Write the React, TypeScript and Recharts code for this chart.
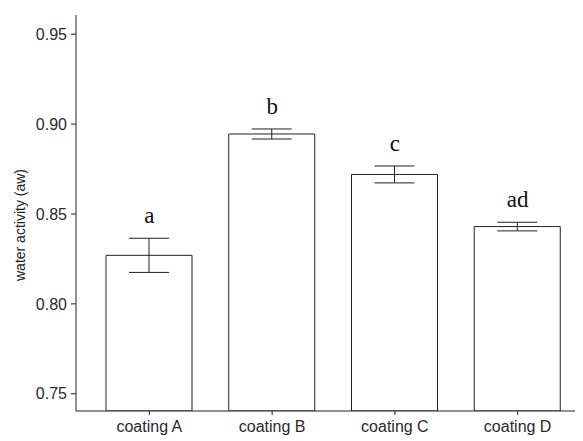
import {
  ComposedChart,
  Bar,
  Line,
  XAxis,
  YAxis,
  ErrorBar,
  LabelList,
} from 'recharts';

const categories = ['coating A', 'coating B', 'coating C', 'coating D'];
const means = [0.827, 0.8945, 0.872, 0.843];
const sds = [0.0095, 0.0028, 0.0047, 0.0024];
const letters = ['a', 'b', 'c', 'ad'];
const yTicks = [0.75, 0.8, 0.85, 0.9, 0.95];

const data = categories.map((name, i) => ({
  name,
  mean: means[i],
  sd: sds[i],
  top: means[i] + sds[i],
  letter: letters[i],
}));

const axisColor = '#222';

const YLabel = () => (
  <text
    x={13}
    y={217}
    transform="rotate(-90 13 217)"
    textAnchor="middle"
    dominantBaseline="middle"
    fontFamily="'Liberation Sans', Arial, sans-serif"
    fontSize={14}
    fill="#222"
  >
    water activity (aw)
  </text>
);

const App = () => {
  return (
    <div style={{ width: 575, height: 433, overflow: 'hidden' }}>
      <ComposedChart
        width={575}
        height={433}
        data={data}
        margin={{ top: 7, right: 0, bottom: 0, left: 0 }}
      >
        <XAxis
          dataKey="name"
          height={30}
          padding={{ left: 12, right: 4 }}
          stroke={axisColor}
          tickSize={4}
          tickMargin={6}
          tick={{ fill: '#2a2a2a', fontSize: 16, fontFamily: "'Liberation Sans', Arial, sans-serif" }}
        />
        <YAxis
          width={68}
          domain={[0.7404, 0.9607]}
          allowDataOverflow
          ticks={yTicks}
          tickFormatter={(v: number) => v.toFixed(2)}
          stroke={axisColor}
          tickSize={5}
          tickMargin={4}
          tick={{ fill: '#2a2a2a', fontSize: 16, fontFamily: "'Liberation Sans', Arial, sans-serif" }}
          label={<YLabel />}
        />
        <Bar
          dataKey="mean"
          barSize={86}
          fill="#fff"
          stroke="#222"
          strokeWidth={1}
          isAnimationActive={false}
        >
          <ErrorBar dataKey="sd" width={20} stroke="#222" strokeWidth={1} />
        </Bar>
        <Line
          dataKey="top"
          stroke="none"
          dot={false}
          activeDot={false}
          isAnimationActive={false}
        >
          <LabelList
            dataKey="letter"
            position="top"
            offset={15}
            fill="#111"
            fontSize={23}
            fontFamily="'Liberation Serif', 'Times New Roman', serif"
          />
        </Line>
      </ComposedChart>
    </div>
  );
};

export default App;
